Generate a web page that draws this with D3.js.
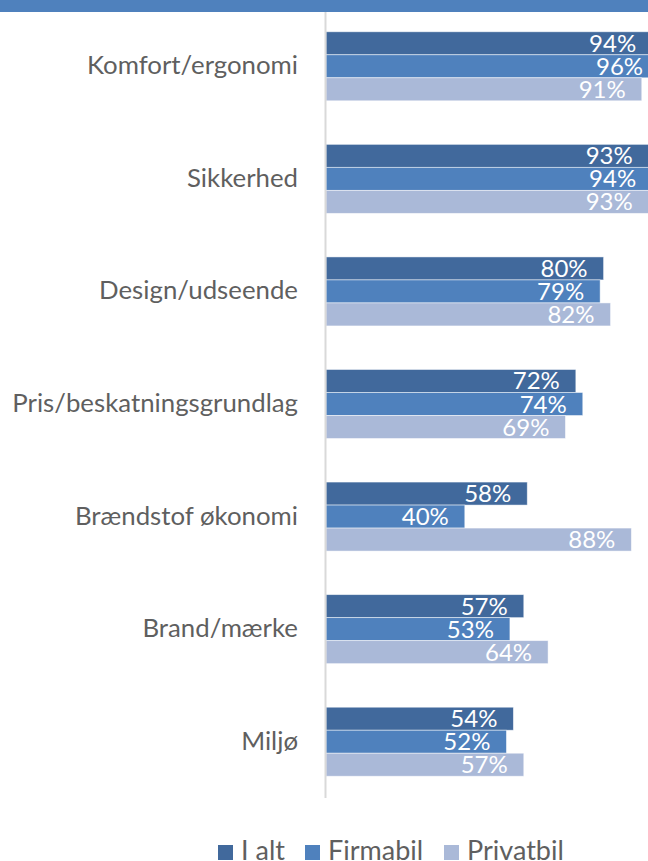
<!DOCTYPE html>
<html>
<head>
<meta charset="utf-8">
<script src="https://cdn.jsdelivr.net/npm/d3@7"></script>
<style>
  html, body { margin: 0; padding: 0; background: #fff; overflow: hidden; }
  svg { display: block; font-family: Lato, "Open Sans", sans-serif; }
</style>
</head>
<body>
<div id="chart"></div>
<script>
var categories = ['Komfort/ergonomi', 'Sikkerhed', 'Design/udseende', 'Pris/beskatningsgrundlag',
                  'Brændstof økonomi', 'Brand/mærke', 'Miljø'];
var seriesNames = ['I alt', 'Firmabil', 'Privatbil'];
var iAlt      = [94, 93, 80, 72, 58, 57, 54];
var firmabil  = [96, 94, 79, 74, 40, 53, 52];
var privatbil = [91, 93, 82, 69, 88, 64, 57];
var colors = ['#41699c', '#4f81bd', '#aab9d8'];

var width = 648, height = 861;

var rows = [];
categories.forEach(function(c, i) {
  rows.push({ cat: c, series: 'I alt', value: iAlt[i] });
  rows.push({ cat: c, series: 'Firmabil', value: firmabil[i] });
  rows.push({ cat: c, series: 'Privatbil', value: privatbil[i] });
});

var svg = d3.select('#chart').append('svg')
  .attr('width', width)
  .attr('height', height);

// top band
svg.append('rect')
  .attr('x', 0).attr('y', 0)
  .attr('width', width).attr('height', 12)
  .attr('fill', '#4f81bd');

var x = d3.scaleLinear().domain([0, 100]).range([326, 673]);
var y = d3.scaleBand().domain(categories).range([10, 798])
  .paddingInner(0.387).paddingOuter(0.1935);
var ySub = d3.scaleBand().domain(seriesNames).range([0, y.bandwidth()]);
var color = d3.scaleOrdinal().domain(seriesNames).range(colors);

var bars = svg.append('g');
bars.selectAll('rect')
  .data(rows)
  .enter()
  .append('rect')
  .attr('x', x(0))
  .attr('y', function(d) { return y(d.cat) + ySub(d.series); })
  .attr('width', function(d) { return x(d.value) - x(0); })
  .attr('height', ySub.bandwidth())
  .attr('fill', function(d) { return color(d.series); })
  .attr('stroke', '#ffffff')
  .attr('stroke-opacity', 0.6)
  .attr('stroke-width', 0.8);

bars.selectAll('text')
  .data(rows)
  .enter()
  .append('text')
  .attr('x', function(d) { return x(d.value) - 16; })
  .attr('y', function(d) { return y(d.cat) + ySub(d.series) + ySub.bandwidth() / 2 + 8.5; })
  .attr('text-anchor', 'end')
  .attr('fill', '#ffffff')
  .style('font-size', '24px')
  .text(function(d) { return d.value + '%'; });

// vertical axis line
svg.append('line')
  .attr('x1', 325.5).attr('x2', 325.5)
  .attr('y1', 12).attr('y2', 798)
  .attr('stroke', '#d9d9d9')
  .attr('stroke-width', 2);

// category labels
svg.append('g').selectAll('text')
  .data(categories)
  .enter()
  .append('text')
  .attr('x', 298)
  .attr('y', function(d) { return y(d) + y.bandwidth() / 2 + 8; })
  .attr('text-anchor', 'end')
  .attr('fill', '#5f5f5f')
  .style('font-size', '25.8px')
  .text(function(d) { return d; });

// legend
var legendX = [218, 305, 444];
var legend = svg.append('g').selectAll('g')
  .data(seriesNames)
  .enter()
  .append('g')
  .attr('transform', function(d, i) { return 'translate(' + legendX[i] + ',845)'; });
legend.append('rect')
  .attr('width', 15).attr('height', 15)
  .attr('fill', function(d) { return color(d); });
legend.append('text')
  .attr('x', 23).attr('y', 15)
  .attr('fill', '#5f5f5f')
  .style('font-size', '27px')
  .text(function(d) { return d; });
</script>
</body>
</html>
